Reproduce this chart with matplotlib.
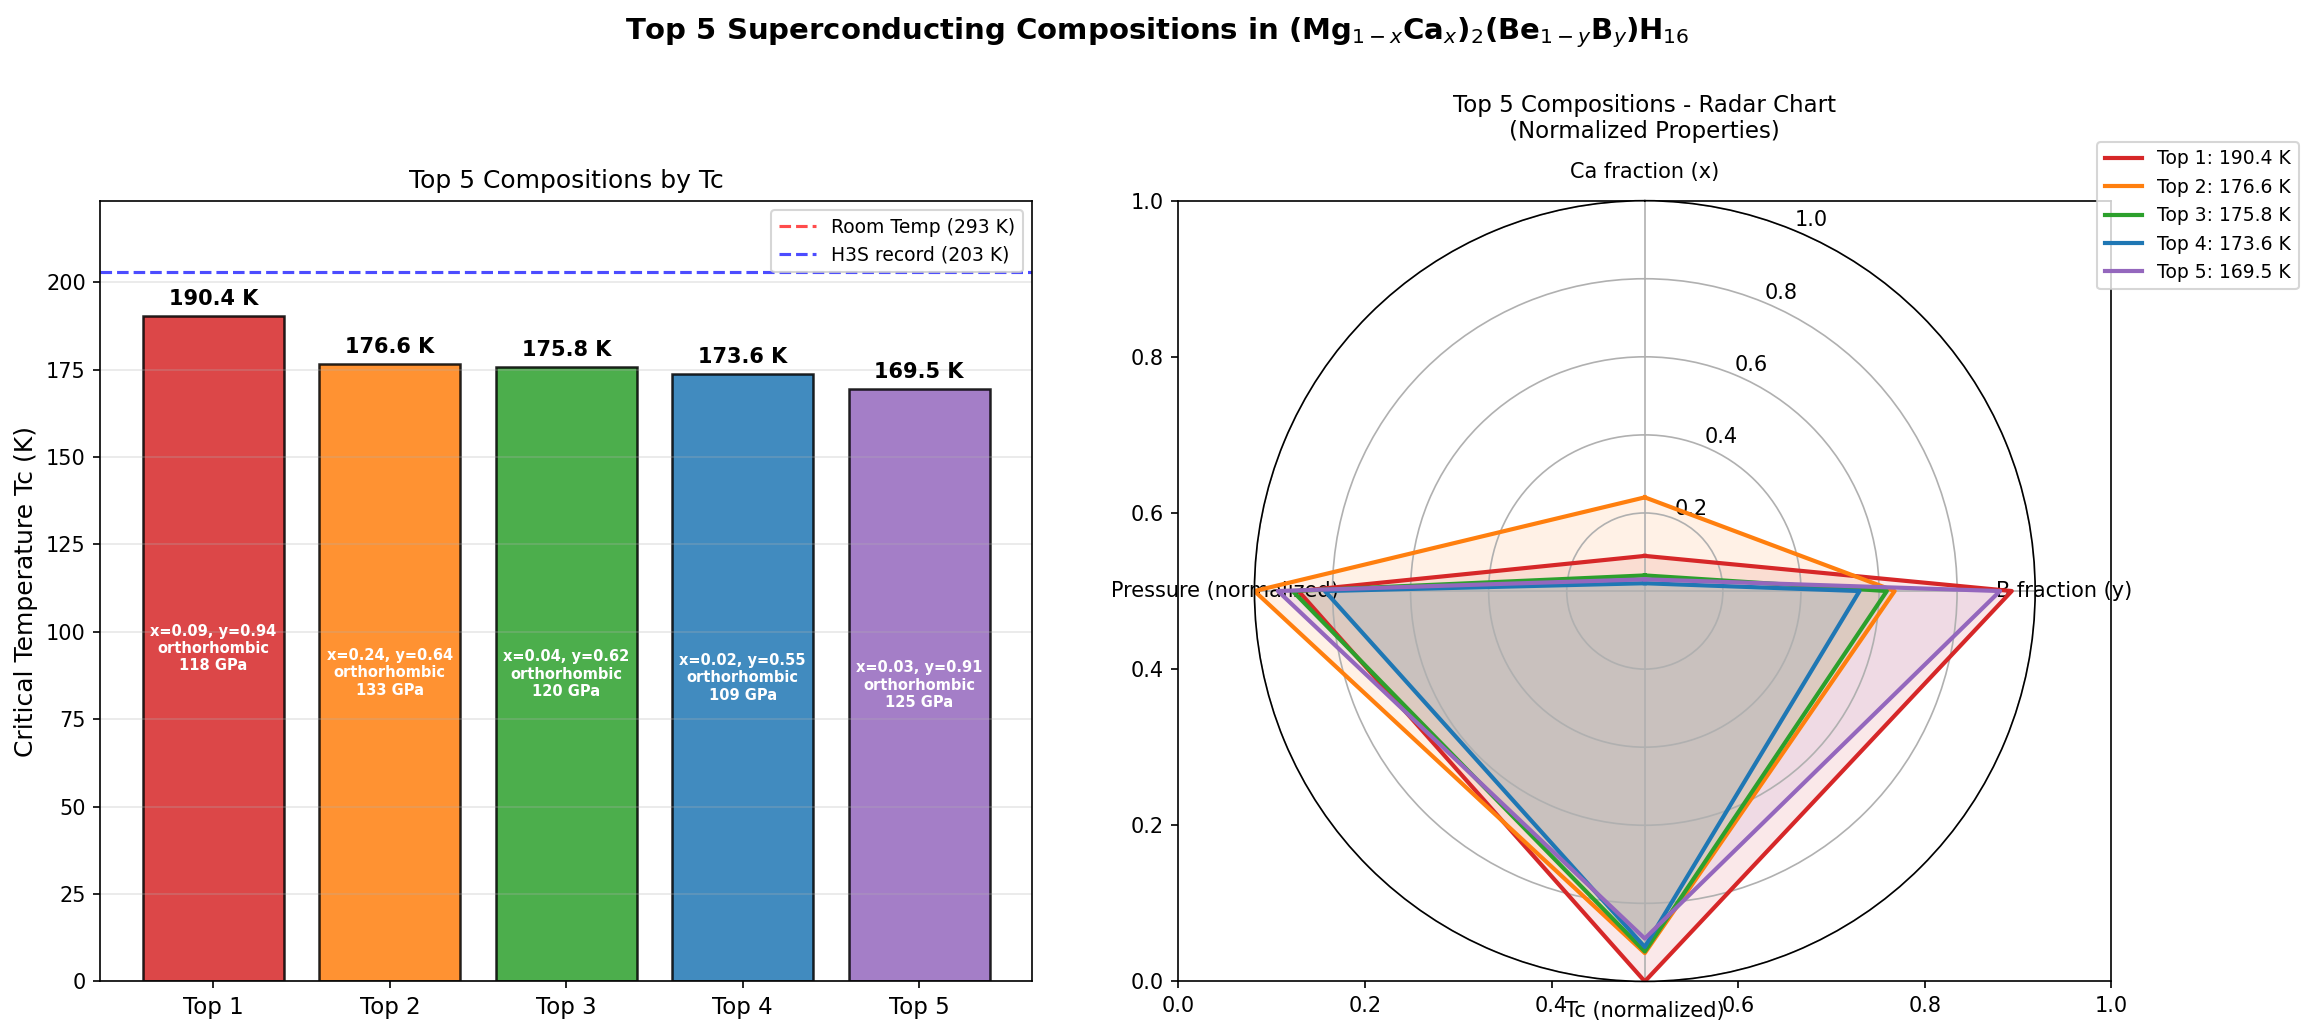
import numpy as np
import matplotlib
matplotlib.use('Agg')
import matplotlib.pyplot as plt

labels = ['Top 1', 'Top 2', 'Top 3', 'Top 4', 'Top 5']
tc = [190.4, 176.6, 175.8, 173.6, 169.5]
x_ca = [0.09, 0.24, 0.04, 0.02, 0.03]
y_b = [0.94, 0.64, 0.62, 0.55, 0.91]
structure = ['orthorhombic'] * 5
pressure = [118, 133, 120, 109, 125]
colors = ['#d62728', '#ff7f0e', '#2ca02c', '#1f77b4', '#9467bd']
radar_cats = ['Ca fraction (x)', 'B fraction (y)', 'Tc (normalized)', 'Pressure (normalized)']

fig = plt.figure(figsize=(2315/150, 1036/150), dpi=150)
ax1 = fig.add_axes([0.0434, 0.0527, 0.4024, 0.7536])
ax2 = fig.add_axes([0.509, 0.0527, 0.403, 0.7536])

bars = ax1.bar(labels, tc, color=colors, alpha=0.85, edgecolor='black', linewidth=1.2)
for b, t, xc, yb, st, p in zip(bars, tc, x_ca, y_b, structure, pressure):
    cx = b.get_x() + b.get_width() / 2
    ax1.text(cx, t + 2, f'{t:.1f} K', ha='center', va='bottom', fontweight='bold', fontsize=10)
    ax1.text(cx, t / 2, f'x={xc:.2f}, y={yb:.2f}\n{st}\n{p} GPa', ha='center', va='center',
             color='white', fontweight='bold', fontsize=7)
ax1.axhline(293, color='red', linestyle='--', alpha=0.7, label='Room Temp (293 K)')
ax1.axhline(203, color='blue', linestyle='--', alpha=0.7, label='H3S record (203 K)')
ax1.set_ylim(0, 203 * 1.1)
ax1.set_ylabel('Critical Temperature Tc (K)', fontsize=12)
ax1.set_title('Top 5 Compositions by Tc', fontsize=12)
ax1.legend(loc='upper right', fontsize=9)
ax1.grid(axis='y', alpha=0.3)
ax1.tick_params(axis='x', labelsize=11)

pos = ax2.get_position()
axp = fig.add_axes(pos, projection='polar')
axp.set_theta_offset(np.pi / 2)
axp.set_theta_direction(-1)
angles = np.linspace(0, 2 * np.pi, len(radar_cats), endpoint=False).tolist()
tmax = max(tc)
pmax = max(pressure)
for i in range(5):
    vals = [x_ca[i], y_b[i], tc[i] / tmax, pressure[i] / pmax]
    vals += vals[:1]
    ang = angles + angles[:1]
    axp.plot(ang, vals, color=colors[i], linewidth=2, label=f'{labels[i]}: {tc[i]:.1f} K')
    axp.fill(ang, vals, color=colors[i], alpha=0.1)
axp.set_xticks(angles)
axp.set_xticklabels(radar_cats, fontsize=10)
axp.set_ylim(0, 1)
axp.set_yticks([0.2, 0.4, 0.6, 0.8, 1.0])
axp.set_yticklabels(['0.2', '0.4', '0.6', '0.8', '1.0'], fontsize=10)
axp.set_title('Top 5 Compositions - Radar Chart\n(Normalized Properties)', fontsize=11, pad=30)
axp.legend(loc='upper right', bbox_to_anchor=(0.997, 0.872), bbox_transform=fig.transFigure, fontsize=9)

fig.suptitle(r'Top 5 Superconducting Compositions in (Mg$_{1-x}$Ca$_x$)$_2$(Be$_{1-y}$B$_y$)H$_{16}$',
             fontsize=14, fontweight='bold', y=0.985)
fig.savefig('out.png', dpi=150)
